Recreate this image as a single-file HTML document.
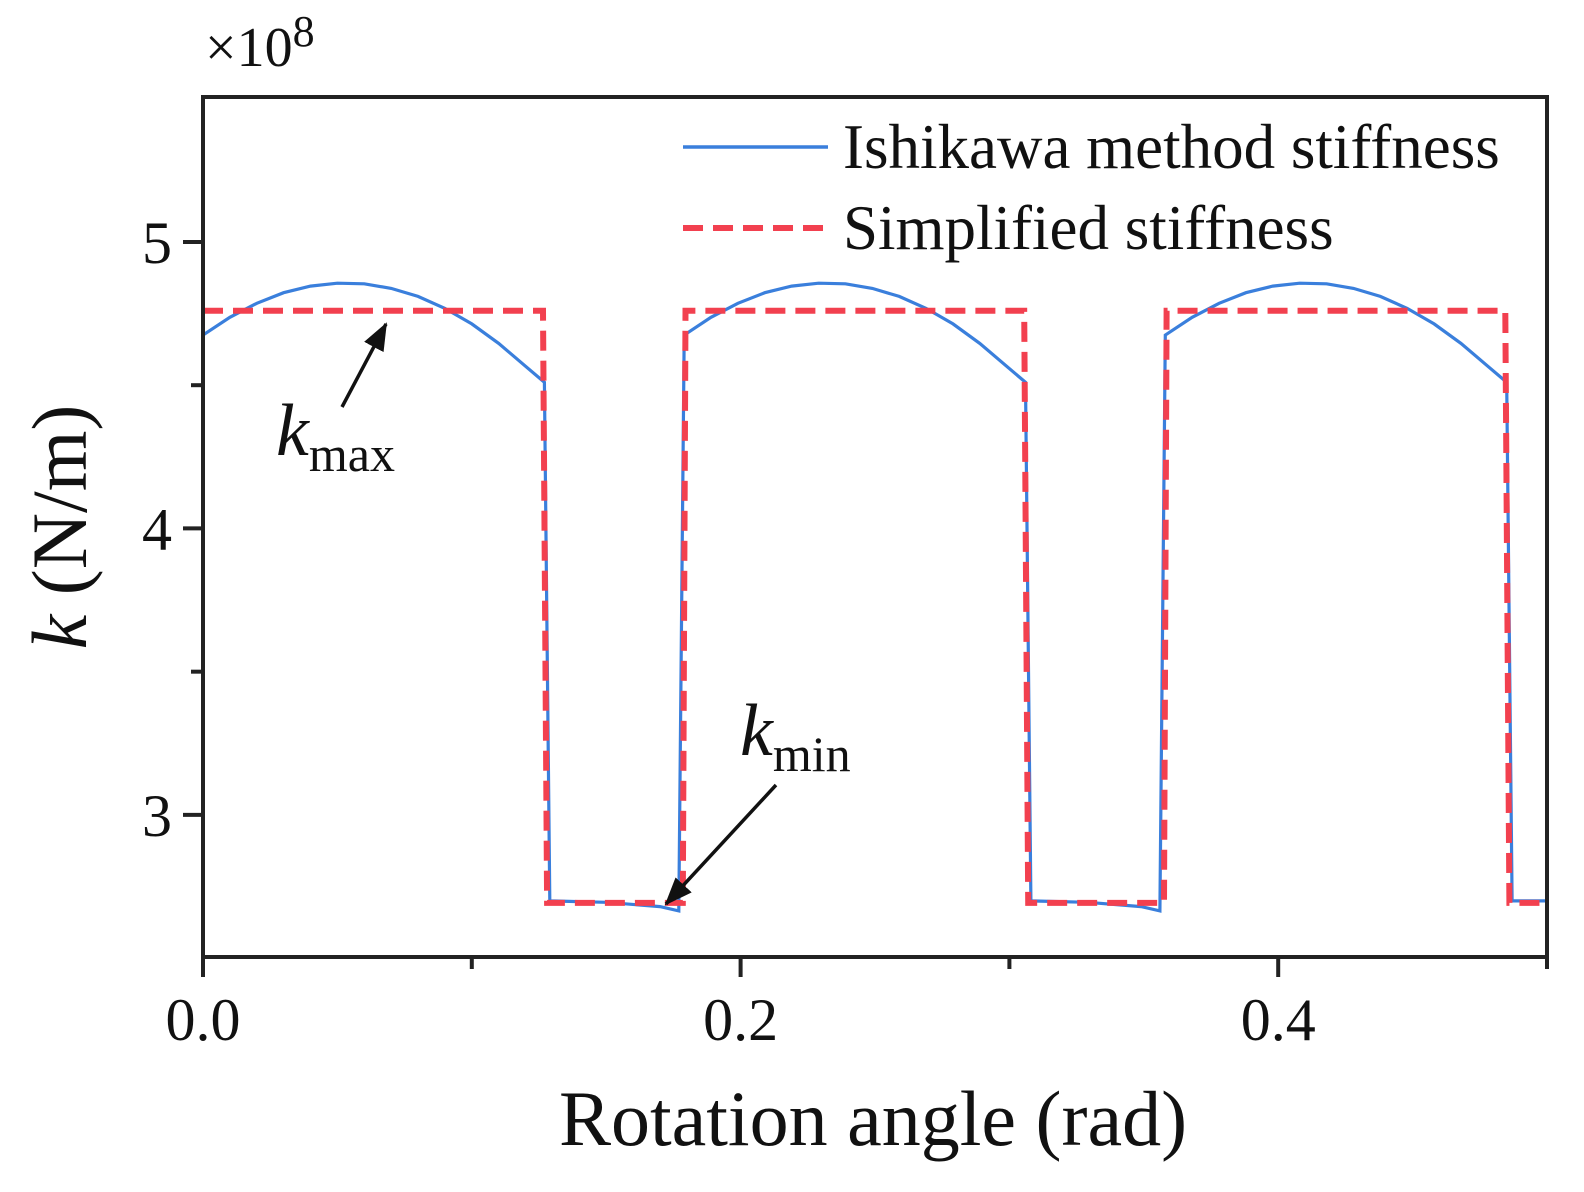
<!DOCTYPE html>
<html><head><meta charset="utf-8"><style>
html,body{margin:0;padding:0;background:#fff;overflow:hidden;width:1584px;height:1192px}
svg{display:block;position:absolute;left:0;top:0}
text{font-family:"Liberation Serif",serif;fill:#111}
</style></head><body>
<svg id="chart" width="1584" height="1192">
<defs><marker id="ah" markerWidth="28" markerHeight="22" refX="26" refY="11" orient="auto" markerUnits="userSpaceOnUse" viewBox="0 0 28 22"><path d="M0,0 L28,11 L0,22 z" fill="#111"/></marker></defs>
<g id="plot"></g>
<text x="205" y="66" font-size="56">×10<tspan dy="-20" font-size="44">8</tspan></text>
<text x="873" y="1145" text-anchor="middle" font-size="78">Rotation angle (rad)</text>
<text transform="translate(86,527) rotate(-90)" text-anchor="middle" font-size="78"><tspan font-style="italic">k</tspan> (N/m)</text>
<g>
<line x1="683" y1="147" x2="828" y2="147" stroke="#3a7fdc" stroke-width="3.5"/>
<text x="843" y="168" font-size="63">Ishikawa method stiffness</text>
<line x1="683" y1="228" x2="828" y2="228" stroke="#f2404f" stroke-width="6" stroke-dasharray="20 10"/>
<text x="843" y="249" font-size="63">Simplified stiffness</text>
</g>
<g>
<line x1="342" y1="407" x2="386" y2="324" stroke="#111" stroke-width="3.5" marker-end="url(#ah)"/>
<text x="276" y="455" font-size="74" font-style="italic">k<tspan font-style="normal" font-size="50" dy="16">max</tspan></text>
</g>
<g>
<line x1="776" y1="785" x2="666" y2="904" stroke="#111" stroke-width="3.5" marker-end="url(#ah)"/>
<text x="740" y="755" font-size="74" font-style="italic">k<tspan font-style="normal" font-size="50" dy="16">min</tspan></text>
</g>
</svg>
<script>
const xTicks=[0,0.2,0.4];
const xTickLabels=["0.0","0.2","0.4"];
const xMinor=[0.1,0.3,0.5];
const yTicks=[3,4,5];
const yTickLabels=["3","4","5"];
const yMinor=[3.5,4.5];
const ishX=[0,0.01,0.02,0.03,0.04,0.05,0.06,0.07,0.08,0.09,0.10,0.11,0.12,0.127,0.129,0.15,0.17,0.177,
0.179,0.189,0.199,0.209,0.219,0.229,0.239,0.249,0.259,0.269,0.279,0.289,0.299,0.306,0.308,0.329,0.349,0.356,
0.358,0.368,0.378,0.388,0.398,0.408,0.418,0.428,0.438,0.448,0.458,0.468,0.478,0.485,0.487,0.5];
const ishY=[4.675,4.737,4.786,4.823,4.846,4.856,4.854,4.838,4.810,4.768,4.714,4.646,4.566,4.51,2.70,2.695,2.68,2.665,
4.675,4.737,4.786,4.823,4.846,4.856,4.854,4.838,4.810,4.768,4.714,4.646,4.566,4.51,2.70,2.695,2.68,2.665,
4.675,4.737,4.786,4.823,4.846,4.856,4.854,4.838,4.810,4.768,4.714,4.646,4.566,4.51,2.70,2.70];
const simX=[0,0.1265,0.128,0.1785,0.1795,0.3055,0.307,0.3575,0.3585,0.4845,0.486,0.5];
const simY=[4.76,4.76,2.693,2.693,4.76,4.76,2.693,2.693,4.76,4.76,2.693,2.693];

const L=203,R=1547,T=97,B=957,xMin=0,xMax=0.5,yMin=2.504,yMax=5.506;
const sx=v=>L+(v-xMin)/(xMax-xMin)*(R-L);
const sy=v=>B-(v-yMin)/(yMax-yMin)*(B-T);
const NS="http://www.w3.org/2000/svg";
const g=document.getElementById('plot');
function mk(tag,attrs){const e=document.createElementNS(NS,tag);for(const k in attrs)e.setAttribute(k,attrs[k]);g.appendChild(e);return e;}

const pts=(xs,ys)=>xs.map((x,i)=>sx(x).toFixed(1)+","+sy(ys[i]).toFixed(1)).join(" ");
const ish=mk('polyline',{points:pts(ishX,ishY),fill:'none',stroke:'#3a7fdc','stroke-width':3.2});


const sim=mk('polyline',{points:pts(simX,simY),fill:'none',stroke:'#f2404f','stroke-width':6,'stroke-dasharray':'20 10'});



const fr=mk('rect',{x:L,y:T,width:R-L,height:B-T,fill:'none',stroke:'#222','stroke-width':4});



xTicks.forEach((v,i)=>{
  const t=mk('line',{x1:sx(v),x2:sx(v),y1:B,y2:B+20,stroke:'#222','stroke-width':4});
  
  
  const l=mk('text',{x:sx(v),y:1040,'text-anchor':'middle','font-size':60});
  l.textContent=xTickLabels[i];
  
  
});
xMinor.forEach(v=>{
  const t=mk('line',{x1:sx(v),x2:sx(v),y1:B,y2:B+12,stroke:'#222','stroke-width':4});
  
  
});
yTicks.forEach((v,i)=>{
  const t=mk('line',{x1:L-20,x2:L,y1:sy(v),y2:sy(v),stroke:'#222','stroke-width':4});
  
  
  const l=mk('text',{x:172,y:sy(v)+21,'text-anchor':'end','font-size':60});
  l.textContent=yTickLabels[i];
  
  
});
yMinor.forEach(v=>{
  const t=mk('line',{x1:L-12,x2:L,y1:sy(v),y2:sy(v),stroke:'#222','stroke-width':4});
  
  
});
</script>
</body></html>
